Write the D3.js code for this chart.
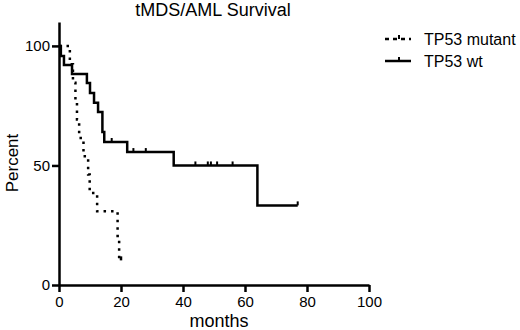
<!DOCTYPE html>
<html lang="en">
<head>
<meta charset="utf-8"/>
<title>tMDS/AML Survival</title>
<script src="https://d3js.org/d3.v7.min.js"></script>
<style>
  body { margin: 0; background: #fff; }
  text { font-family: "Liberation Sans", Arial, sans-serif; fill: #000; }
</style>
</head>
<body>
<script>
// Kaplan-Meier steps (months, percent surviving after the step)
var wtTimes = [0, 0.6, 1.6, 4.2, 9, 10, 11.3, 12.6, 14, 14.6, 22, 37, 64];
var wtSurv  = [100, 95.8, 92, 88.3, 84.5, 80.3, 76.2, 72.4, 64, 59.8, 55.6, 50, 33.3];
var wtEnd = 77;
var wtCensor = [17, 24, 28, 44, 48, 49, 51, 56, 77];

var mutTimes = [0, 3.5, 4.5, 5.3, 5.8, 6.5, 7.9, 9.4, 9.9, 12.3, 18.9, 19.4];
var mutSurv  = [100, 92.3, 84.6, 76.9, 69.2, 61.5, 53.8, 46.2, 38.5, 30.8, 20.5, 10.3];
var mutEnd = 20;
var mutCensor = [20];

var xTicks = [0, 20, 40, 60, 80, 100];
var yTicks = [0, 50, 100];
var seriesNames = ["TP53 mutant", "TP53 wt"];

var w = 520, h = 330;

var svg = d3.select("body").append("svg")
    .attr("width", w)
    .attr("height", h);

var x = d3.scaleLinear().domain([0, 100]).range([59, 369]);
var y = d3.scaleLinear().domain([0, 110]).range([285, 22]);

// survival at time t from the step data
function survAt(times, surv, t) {
    var s = surv[0];
    for (var i = 0; i < times.length; i++) {
        if (times[i] <= t) s = surv[i];
    }
    return s;
}

function stepData(times, surv, end) {
    var pts = times.map(function (t, i) { return [t, surv[i]]; });
    pts.push([end, surv[surv.length - 1]]);
    return pts;
}

var line = d3.line()
    .x(function (d) { return x(d[0]); })
    .y(function (d) { return y(d[1]); })
    .curve(d3.curveStepAfter);

// axes
var xAxis = svg.append("g")
    .attr("transform", "translate(0," + y(0) + ")")
    .call(d3.axisBottom(x).tickValues(xTicks).tickSize(7).tickSizeOuter(0).tickPadding(4));

var yAxis = svg.append("g")
    .attr("transform", "translate(" + x(0) + ",0)")
    .call(d3.axisLeft(y).tickValues(yTicks).tickSize(7).tickSizeOuter(0).tickPadding(2));

[xAxis, yAxis].forEach(function (a) {
    a.select(".domain").attr("stroke", "#000").attr("stroke-width", 2.5);
    a.selectAll(".tick line").attr("stroke", "#000").attr("stroke-width", 2.5);
    a.selectAll(".tick text")
        .style("font-family", "'Liberation Sans', Arial, sans-serif")
        .style("font-size", "15px")
        .attr("fill", "#333");
});

// curves
svg.append("path")
    .datum(stepData(wtTimes, wtSurv, wtEnd))
    .attr("fill", "none")
    .attr("stroke", "#000")
    .attr("stroke-width", 2.5)
    .attr("d", line);

svg.append("path")
    .datum(stepData(mutTimes, mutSurv, mutEnd))
    .attr("fill", "none")
    .attr("stroke", "#000")
    .attr("stroke-width", 2.5)
    .attr("stroke-dasharray", "2.5,5")
    .attr("d", line);

// censor ticks
svg.selectAll(".cw")
    .data(wtCensor)
    .enter()
    .append("line")
    .attr("x1", function (d) { return x(d); })
    .attr("x2", function (d) { return x(d); })
    .attr("y1", function (d) { return y(survAt(wtTimes, wtSurv, d)); })
    .attr("y2", function (d) { return y(survAt(wtTimes, wtSurv, d)) - 4; })
    .attr("stroke", "#000")
    .attr("stroke-width", 2);

svg.selectAll(".cm")
    .data(mutCensor)
    .enter()
    .append("line")
    .attr("x1", function (d) { return x(d); })
    .attr("x2", function (d) { return x(d); })
    .attr("y1", function (d) { return y(survAt(mutTimes, mutSurv, d)); })
    .attr("y2", function (d) { return y(survAt(mutTimes, mutSurv, d)) - 4; })
    .attr("stroke", "#000")
    .attr("stroke-width", 2.5);

// titles
svg.append("text")
    .attr("x", 213).attr("y", 16)
    .attr("text-anchor", "middle")
    .style("font-size", "18px")
    .attr("fill", "#333")
    .text("tMDS/AML Survival");

svg.append("text")
    .attr("x", 219).attr("y", 327)
    .attr("text-anchor", "middle")
    .style("font-size", "18px")
    .attr("fill", "#333")
    .text("months");

svg.append("text")
    .attr("transform", "translate(18,163) rotate(-90)")
    .attr("text-anchor", "middle")
    .style("font-size", "17px")
    .attr("fill", "#333")
    .text("Percent");

// legend
var legend = svg.selectAll(".legend")
    .data(seriesNames)
    .enter()
    .append("g")
    .attr("transform", function (d, i) { return "translate(385," + (39 + i * 22) + ")"; });

legend.append("line")
    .attr("x1", 0).attr("x2", 26).attr("y1", 0).attr("y2", 0)
    .attr("stroke", "#000")
    .attr("stroke-width", 2.5)
    .attr("stroke-dasharray", function (d, i) { return i === 0 ? "4,4" : null; });

legend.append("line")
    .attr("x1", 14).attr("x2", 14).attr("y1", 0).attr("y2", -4)
    .attr("stroke", "#000")
    .attr("stroke-width", 2);

legend.append("text")
    .attr("x", 39).attr("y", 6)
    .style("font-size", "16px")
    .attr("fill", "#333")
    .text(function (d) { return d; });
</script>
</body>
</html>
